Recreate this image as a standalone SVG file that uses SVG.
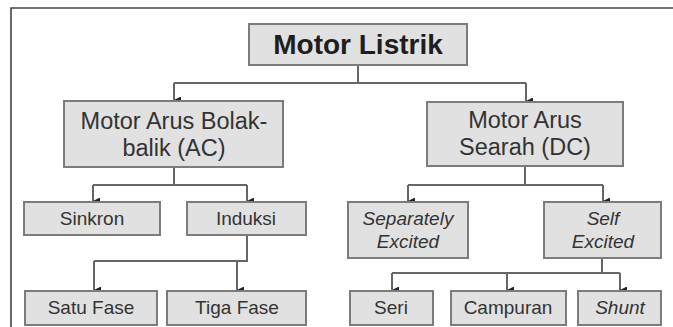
<svg xmlns="http://www.w3.org/2000/svg" width="673" height="327" viewBox="0 0 673 327">
<style>
.box{fill:#e1e1e1;stroke:#7c7c7c;stroke-width:2}
.t{font-family:"Liberation Sans",Arial,sans-serif;fill:#333;text-anchor:middle}
.big{font-size:23.5px}
.sm{font-size:19px}
.it{font-style:italic}
.title{font-size:28px;font-weight:bold;fill:#1e1e1e}
.ln{fill:none;stroke:#666;stroke-width:2}
.frame{fill:none;stroke:#444;stroke-width:1.6}
</style>
<defs>
<marker id="ah" viewBox="0 0 8 8" refX="4" refY="8" markerWidth="7" markerHeight="7" markerUnits="userSpaceOnUse" orient="auto-start-reverse">
<path d="M0,0 L8,0 L4,8 Z" fill="#222"/>
</marker>
</defs>
<rect width="673" height="327" fill="#fff"/>
<path class="frame" d="M11,327 V8 H673"/>
<g id="connectors">
<path class="ln" d="M358,65 V83"/>
<path class="ln" d="M174,83 H526"/>
<path class="ln" d="M174,83 V100" marker-end="url(#ah)"/>
<path class="ln" d="M526,83 V101" marker-end="url(#ah)"/>
<path class="ln" d="M174,167 V185 M93,185 H247"/>
<path class="ln" d="M93,185 V201" marker-end="url(#ah)"/>
<path class="ln" d="M247,185 V201" marker-end="url(#ah)"/>
<path class="ln" d="M525,166 V185 M408,185 H603"/>
<path class="ln" d="M408,185 V201" marker-end="url(#ah)"/>
<path class="ln" d="M603,185 V201" marker-end="url(#ah)"/>
<path class="ln" d="M247,235 V261 H94"/>
<path class="ln" d="M94,261 V290" marker-end="url(#ah)"/>
<path class="ln" d="M237,261 V290" marker-end="url(#ah)"/>
<path class="ln" d="M602,258 V273 M392,273 H620"/>
<path class="ln" d="M392,273 V290" marker-end="url(#ah)"/>
<path class="ln" d="M507,273 V290" marker-end="url(#ah)"/>
<path class="ln" d="M620,273 V290" marker-end="url(#ah)"/>
</g>
<g id="motor-listrik">
<rect class="box" x="249" y="24" width="218" height="41"/>
<text class="t title" x="358" y="54">Motor Listrik</text>
</g>
<g id="ac">
<rect class="box" x="64" y="101" width="219" height="66"/>
<text class="t big" x="174" y="129">Motor Arus Bolak-</text>
<text class="t big" x="174" y="156">balik (AC)</text>
</g>
<g id="dc">
<rect class="box" x="427" y="102" width="196" height="64"/>
<text class="t big" x="525" y="128">Motor Arus</text>
<text class="t big" x="525" y="155">Searah (DC)</text>
</g>
<g id="sinkron">
<rect class="box" x="24" y="202" width="136" height="33"/>
<text class="t sm" x="92" y="225">Sinkron</text>
</g>
<g id="induksi">
<rect class="box" x="187" y="202" width="119" height="33"/>
<text class="t sm" x="246" y="225">Induksi</text>
</g>
<g id="separately-excited">
<rect class="box" x="348" y="202" width="120" height="56"/>
<text class="t sm it" x="408" y="225">Separately</text>
<text class="t sm it" x="408" y="248">Excited</text>
</g>
<g id="self-excited">
<rect class="box" x="544" y="202" width="117" height="56"/>
<text class="t sm it" x="603" y="225">Self</text>
<text class="t sm it" x="603" y="248">Excited</text>
</g>
<g id="satu-fase">
<rect class="box" x="25" y="291" width="132" height="34"/>
<text class="t sm" x="91" y="314">Satu Fase</text>
</g>
<g id="tiga-fase">
<rect class="box" x="167" y="291" width="139" height="34"/>
<text class="t sm" x="237" y="314">Tiga Fase</text>
</g>
<g id="seri">
<rect class="box" x="350" y="291" width="83" height="34"/>
<text class="t sm" x="391" y="314">Seri</text>
</g>
<g id="campuran">
<rect class="box" x="451" y="291" width="115" height="34"/>
<text class="t sm" x="508" y="314">Campuran</text>
</g>
<g id="shunt">
<rect class="box" x="578" y="291" width="83" height="34"/>
<text class="t sm it" x="620" y="314">Shunt</text>
</g>
</svg>
